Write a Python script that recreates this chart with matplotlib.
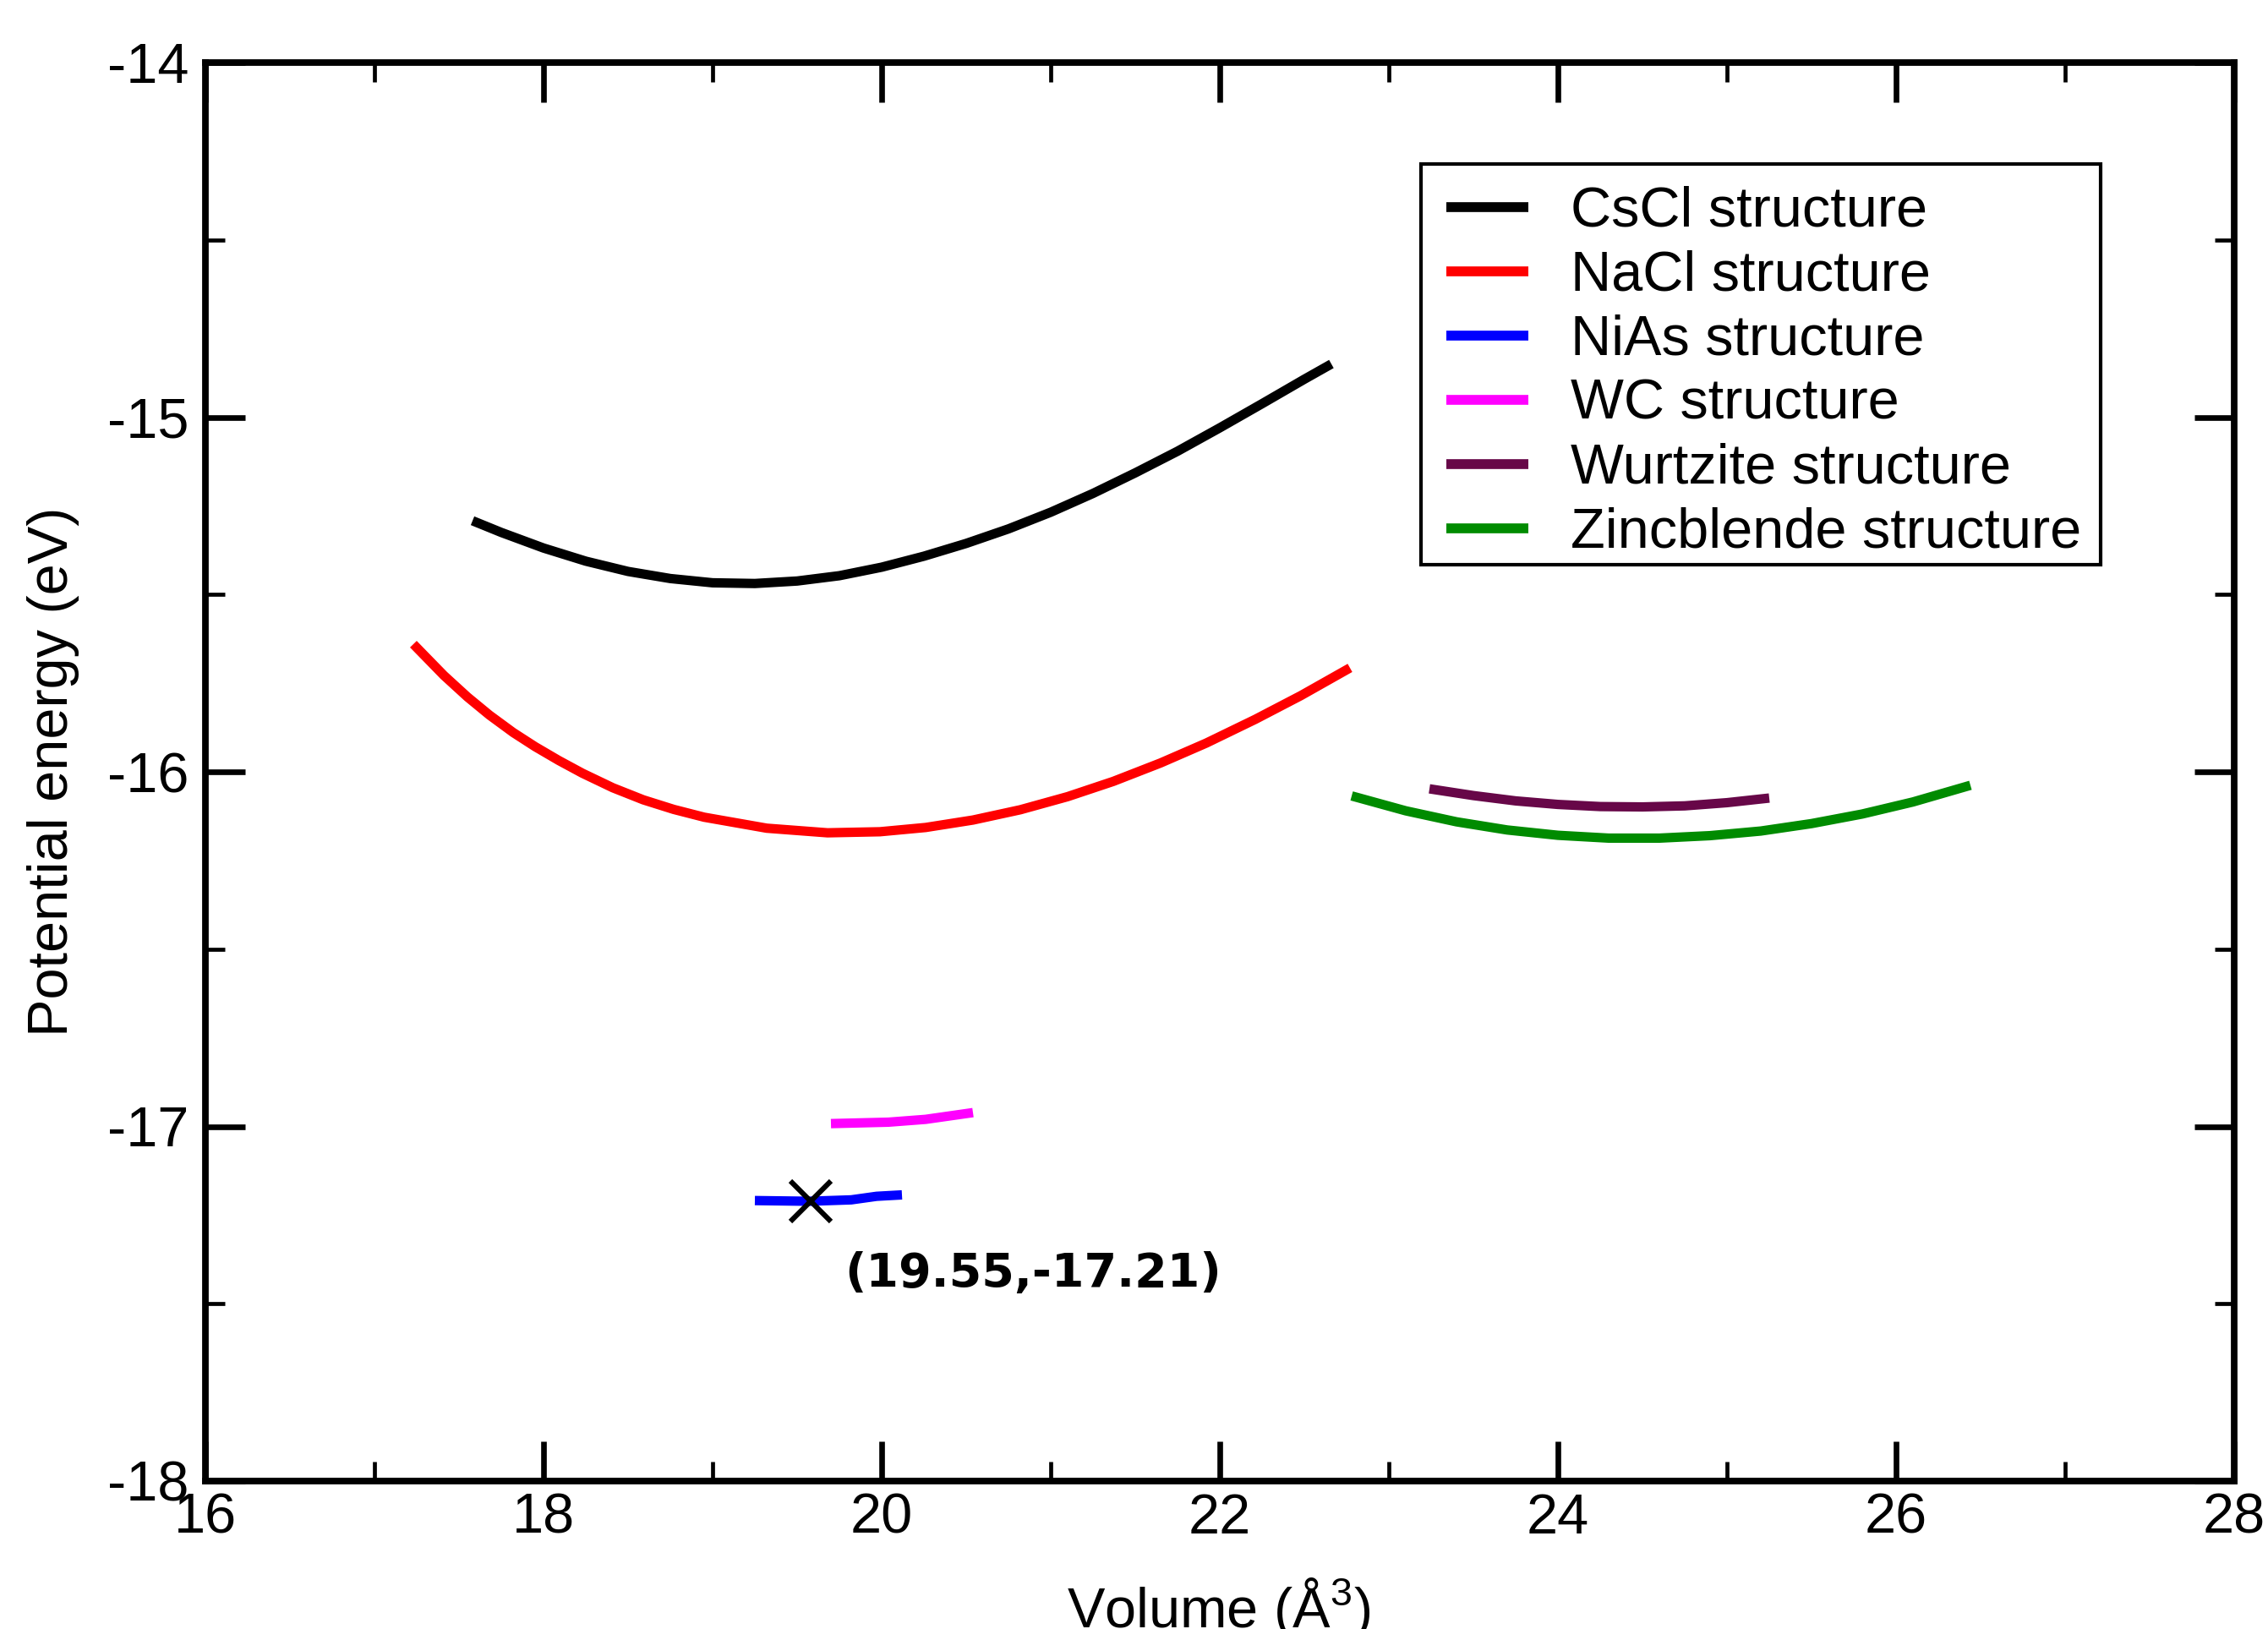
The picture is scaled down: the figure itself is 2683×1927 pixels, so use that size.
import numpy as np
import matplotlib
matplotlib.use('Agg')
import matplotlib.pyplot as plt
from matplotlib.ticker import MultipleLocator
from matplotlib.patches import Rectangle

plt.rcParams['font.family'] = ['Liberation Sans', 'DejaVu Sans']
plt.rcParams['mathtext.fontset'] = 'custom'
plt.rcParams['mathtext.rm'] = 'Liberation Sans'
plt.rcParams['axes.unicode_minus'] = False

# E(V) curves: volume (A^3), energy (eV)
cscl_v = [17.58, 17.75, 18.00, 18.25, 18.50, 18.75, 19.00, 19.25, 19.50, 19.75, 20.00,
          20.25, 20.50, 20.75, 21.00, 21.25, 21.50, 21.75, 22.00, 22.25, 22.50, 22.66]
cscl_e = [-15.292, -15.325, -15.369, -15.406, -15.435, -15.455, -15.467, -15.469,
          -15.462, -15.447, -15.423, -15.392, -15.356, -15.315, -15.268, -15.215,
          -15.157, -15.096, -15.030, -14.962, -14.893, -14.850]

nacl_v = [17.23, 17.32, 17.41, 17.55, 17.68, 17.82, 17.95, 18.09, 18.23, 18.41, 18.59,
          18.77, 18.95, 19.32, 19.68, 19.99, 20.26, 20.54, 20.82, 21.10, 21.37, 21.65,
          21.92, 22.21, 22.48, 22.77]
nacl_e = [-15.640, -15.684, -15.728, -15.789, -15.840, -15.889, -15.929, -15.968,
          -16.004, -16.045, -16.079, -16.106, -16.128, -16.159, -16.172, -16.169,
          -16.157, -16.136, -16.107, -16.070, -16.027, -15.975, -15.919, -15.852,
          -15.785, -15.707]

nias_v = [19.25, 19.57, 19.82, 19.97, 20.12]
nias_e = [-17.209, -17.211, -17.207, -17.197, -17.193]

wc_v = [19.70, 20.04, 20.26, 20.54]
wc_e = [-16.992, -16.988, -16.980, -16.961]

wurtz_v = [23.24, 23.50, 23.75, 24.00, 24.25, 24.50, 24.75, 25.00, 25.25]
wurtz_e = [-16.048, -16.067, -16.082, -16.092, -16.098, -16.099, -16.096, -16.087, -16.074]

zinc_v = [22.78, 23.10, 23.40, 23.70, 24.00, 24.30, 24.60, 24.90, 25.20, 25.50,
          25.80, 26.10, 26.44]
zinc_e = [-16.068, -16.110, -16.141, -16.164, -16.179, -16.187, -16.187, -16.180,
          -16.167, -16.146, -16.119, -16.085, -16.038]

labels = ['CsCl structure', 'NaCl structure', 'NiAs structure', 'WC structure',
          'Wurtzite structure', 'Zincblende structure']
colors = ['#000000', '#ff0000', '#0000ff', '#ff00ff', '#670748', '#008b00']

min_v, min_e = 19.58, -17.212
min_text = '(19.55,-17.21)'

fig = plt.figure(figsize=(13.415, 9.635), dpi=200)
ax = fig.add_axes([243 / 2683, 1 - 1752 / 1927, 2400 / 2683, 1678 / 1927])

series = [(cscl_v, cscl_e), (nacl_v, nacl_e), (nias_v, nias_e),
          (wc_v, wc_e), (wurtz_v, wurtz_e), (zinc_v, zinc_e)]
for (v, e), lab, c in zip(series, labels, colors):
    ax.plot(v, e, color=c, lw=4.0, label=lab, solid_capstyle='butt',
            solid_joinstyle='round')

ax.plot([min_v], [min_e], marker='x', color='k', ms=17, mew=2.2, ls='none')
ax.text(19.78, -17.451, min_text, fontsize=20, fontweight='bold',
        family='DejaVu Sans', ha='left', va='baseline')

ax.set_xlim(16, 28)
ax.set_ylim(-18, -14)
ax.xaxis.set_major_locator(MultipleLocator(2))
ax.xaxis.set_minor_locator(MultipleLocator(1))
ax.yaxis.set_major_locator(MultipleLocator(1))
ax.yaxis.set_minor_locator(MultipleLocator(0.5))
ax.tick_params(which='both', direction='in', top=True, right=True)
ax.tick_params(which='major', length=17, width=2.4, labelsize=24)
ax.tick_params(which='minor', length=8.3, width=1.7)
ax.tick_params(axis='x', which='major', pad=5)
ax.tick_params(axis='y', which='major', pad=7)
for s in ax.spines.values():
    s.set_linewidth(2.8)

ax.set_ylabel('Potential energy (eV)', fontsize=24, va='center')
ax.yaxis.set_label_coords(-0.075, 0.5)
fig.text(0.5375, 0.001, 'Volume (Å$^3$)', fontsize=24, ha='center', va='baseline')

# legend box drawn separately so the padding can match the original
ax.add_patch(Rectangle((0.599, 0.646), 0.335, 0.2825, transform=ax.transAxes,
                       facecolor='white', edgecolor='k', lw=1.5, zorder=4))
leg = ax.legend(loc='upper left', bbox_to_anchor=(0.6117, 0.913), borderaxespad=0,
                fontsize=24, frameon=False, handlelength=1.45, handletextpad=0.76,
                labelspacing=0.21, borderpad=0)
leg.set_zorder(5)
for h in leg.get_lines():
    h.set_linewidth(4.2)

fig.savefig('out.png', dpi=200)
